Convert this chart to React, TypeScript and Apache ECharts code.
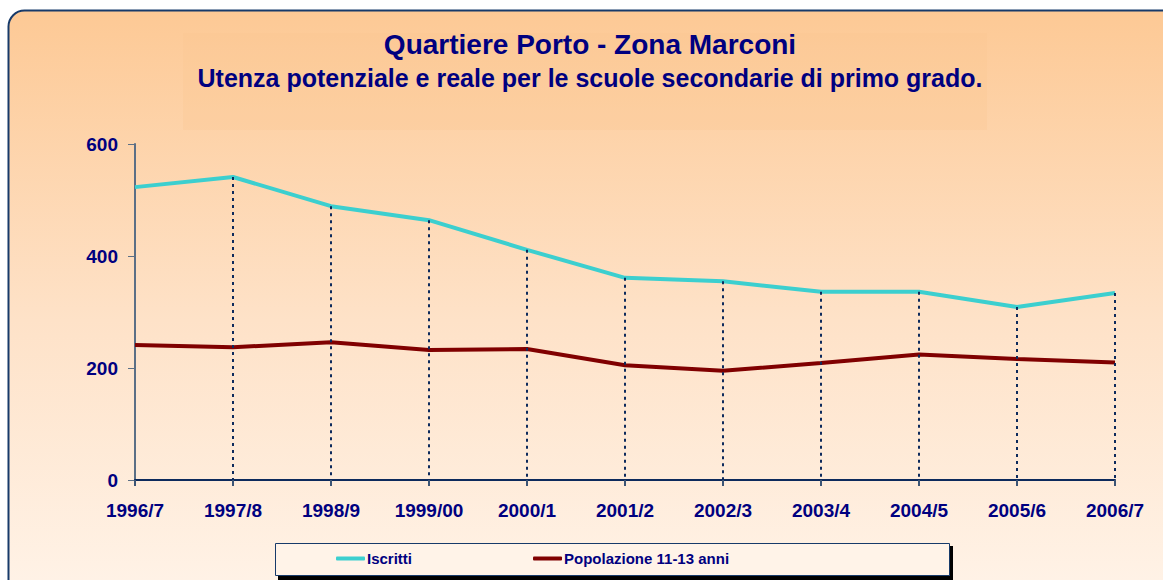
import React, { useEffect, useRef } from "react";
import * as echarts from "echarts";

const categories = ["1996/7", "1997/8", "1998/9", "1999/00", "2000/1", "2001/2", "2002/3", "2003/4", "2004/5", "2005/6", "2006/7"];
const iscritti = [523, 541, 489, 464, 411, 361, 355, 336, 336, 309, 334];
const popolazione = [241, 237, 246, 232, 234, 205, 195, 209, 224, 216, 210];
const yTicks = { min: 0, max: 600, interval: 200 };

const NAVY = "#000080";
const FONT = "Liberation Sans, Arial, sans-serif";

export default function App() {
  const ref = useRef<HTMLDivElement>(null);
  useEffect(() => {
    if (!ref.current) return;
    const chart = echarts.init(ref.current, null, { renderer: "svg" });
    const dropLines = iscritti
      .map((v, i) => [
        { coord: [categories[i], v] },
        { coord: [categories[i], 0] },
      ])
      .slice(1);
    chart.setOption({
      animation: false,
      graphic: [
        {
          type: "rect",
          z: -10,
          shape: { x: 8.5, y: 10.5, width: 1200, height: 620, r: 16 },
          style: {
            fill: new echarts.graphic.LinearGradient(0, 0, 0, 1, [
              { offset: 0, color: "#FDC995" },
              { offset: 0.5, color: "#FEE2C8" },
              { offset: 0.92, color: "#FFF2E6" },
              { offset: 1, color: "#FFF3E8" },
            ]),
            stroke: "#173A6A",
            lineWidth: 2,
          },
        },
        {
          type: "rect",
          z: -9,
          shape: { x: 183, y: 33, width: 804, height: 97 },
          style: { fill: "#FDC893", opacity: 0.3 },
        },
        {
          type: "rect",
          z: -8,
          shape: { x: 278, y: 546, width: 675, height: 34 },
          style: { fill: "#000000" },
        },
        {
          type: "rect",
          z: -7,
          shape: { x: 275.5, y: 543.5, width: 674, height: 32 },
          style: { fill: "#FFF3E8", stroke: "#173A6A", lineWidth: 1 },
        },
      ],
      title: {
        text: "Quartiere Porto - Zona Marconi",
        subtext: "Utenza potenziale e reale per le scuole secondarie di primo grado.",
        left: 585,
        textAlign: "center",
        top: 25,
        itemGap: 7,
        textStyle: { fontFamily: FONT, fontWeight: "bold", fontSize: 28, color: NAVY },
        subtextStyle: { fontFamily: FONT, fontWeight: "bold", fontSize: 25, color: NAVY },
      },
      legend: {
        left: 336,
        top: 551,
        padding: 0,
        itemWidth: 29,
        itemHeight: 4,
        itemGap: 121,
        icon: "roundRect",
        textStyle: { fontFamily: FONT, fontWeight: "bold", fontSize: 15, color: NAVY, padding: [0, 0, 0, -3] },
        data: ["Iscritti", "Popolazione 11-13 anni"],
      },
      grid: { left: 135, right: 48, top: 144, bottom: 100, containLabel: false },
      xAxis: {
        type: "category",
        data: categories,
        boundaryGap: false,
        axisLine: { lineStyle: { color: "#0D2A5C", width: 2 } },
        axisTick: { show: true, length: 6, lineStyle: { color: "#3D5575", width: 2 } },
        axisLabel: { margin: 21, fontFamily: FONT, fontWeight: "bold", fontSize: 19, color: NAVY },
        splitLine: { show: false },
      },
      yAxis: {
        type: "value",
        min: yTicks.min,
        max: yTicks.max,
        interval: yTicks.interval,
        axisLine: { show: true, lineStyle: { color: "#5B6F86", width: 2 } },
        axisTick: { show: true, length: 7, lineStyle: { color: "#5B6F86", width: 1 } },
        axisLabel: { margin: 17, fontFamily: FONT, fontWeight: "bold", fontSize: 19, color: NAVY },
        splitLine: { show: false },
      },
      series: [
        {
          name: "Iscritti",
          type: "line",
          data: iscritti,
          symbol: "none",
          lineStyle: { color: "#3CCFCF", width: 4 },
          itemStyle: { color: "#3CCFCF" },
          z: 3,
          markLine: {
            silent: true,
            symbol: "none",
            label: { show: false },
            lineStyle: { color: "#0D2A5C", width: 2, type: [3, 4] },
            data: dropLines,
          },
        },
        {
          name: "Popolazione 11-13 anni",
          type: "line",
          data: popolazione,
          symbol: "none",
          lineStyle: { color: "#800000", width: 4 },
          itemStyle: { color: "#800000" },
          z: 3,
        },
      ],
    });
    return () => chart.dispose();
  }, []);
  return (
    <div
      ref={ref}
      style={{ position: "fixed", left: 0, top: 0, width: 1163, height: 580, background: "#ffffff" }}
    />
  );
}
